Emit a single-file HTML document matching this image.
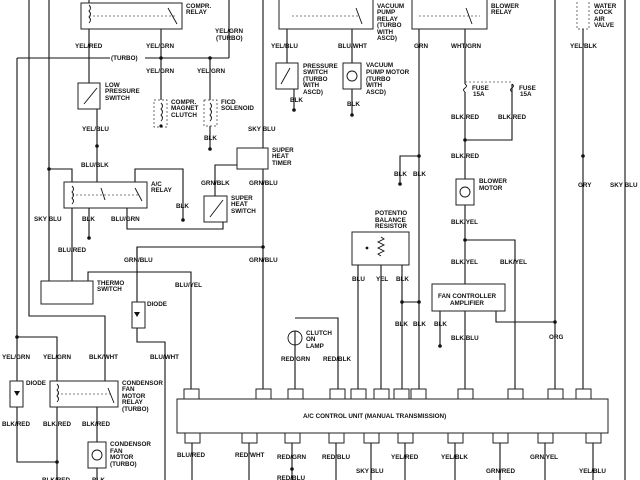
<!DOCTYPE html>
<html><head><meta charset="utf-8"><style>
html,body{margin:0;padding:0;background:#fff;}
svg{display:block;}
text{font-family:"Liberation Sans",sans-serif;font-size:6.3px;font-weight:bold;fill:#111;}
.l{stroke:#111;stroke-width:1.1;fill:none;}
.b{stroke:#222;stroke-width:1;fill:#fff;}
.d{stroke:#555;stroke-width:.7;stroke-dasharray:2,2;fill:none;}
</style></head><body>
<svg width="640" height="480" viewBox="0 0 640 480" xmlns="http://www.w3.org/2000/svg">
<g class="l">
<!-- left verticals -->
<path d="M29 0V316H105V381"/>
<path d="M49 0V281"/>
<path d="M17 58V381M17 407V462H57"/>
<path d="M17 58H110M145 58H229"/>
<path d="M49 169H72V281"/>
<path d="M17 337H57V381M57 407V480"/>
<path d="M97 407V442M97 468V480"/>
<!-- compr relay -->
<path d="M89 0V83M97 109V182"/>
<path d="M161 23V100"/>
<path d="M229 0V58"/>
<path d="M210 58V100M210 126V149"/>
<!-- a/c relay switch lines -->
<path d="M135 182V169H183V220"/>
<path d="M89 208V238M127 208V229H223V222"/>
<!-- super heat -->
<path d="M263 0V148M263 169V389"/>
<path d="M237 165H215V196"/>
<path d="M137 260V247H263"/>
<path d="M137 247V302M137 328V342H165V480"/>
<path d="M88 281V272H191V389"/>
<!-- vacuum pump -->
<path d="M287 0V63M294 89V110"/>
<path d="M352 23V63M352 89V115"/>
<!-- blower relay -->
<path d="M419 0V389"/>
<path d="M419 156H400V184"/>
<path d="M465 23V84M465 92V179M465 205V284M465 311V389"/>
<path d="M512 84V140H465"/>
<path d="M465 240H515V389"/>
<path d="M496 311V322H555"/>
<path d="M440 311V346"/>
<path d="M555 0V389M583 29V389M625 0V480"/>
<!-- potentio -->
<path d="M358 248V389M381 256V389M402 237V389M402 302H419"/>
<path d="M381 237H402M358 248H372"/>
<!-- lamp -->
<path d="M295 331V389M295 318H338V389"/>
<!-- bottom -->
<path d="M192 443V480M249 443V480M292 443V480M336 443V480M371 443V480M405 443V480M455 443V480M500 443V480M545 443V480M593 443V480"/>
</g>
<g class="b">
<rect x="81" y="3" width="101" height="26"/>
<rect x="78" y="83" width="22" height="26"/>
<rect x="154" y="100" width="13" height="27" class="d" style="stroke:#333"/>
<rect x="204" y="100" width="13" height="26" class="d" style="stroke:#333"/>
<rect x="237" y="148" width="31" height="21"/>
<rect x="204" y="196" width="23" height="26"/>
<rect x="64" y="182" width="83" height="26"/>
<rect x="41" y="281" width="52" height="23"/>
<rect x="132" y="302" width="13" height="26"/>
<rect x="10" y="381" width="13" height="26"/>
<rect x="50" y="381" width="68" height="26"/>
<rect x="88" y="442" width="18" height="26"/>
<rect x="279" y="-2" width="94" height="31"/>
<rect x="276" y="63" width="22" height="26"/>
<rect x="343" y="63" width="18" height="26"/>
<rect x="412" y="-2" width="75" height="31"/>
<rect x="456" y="179" width="18" height="26"/>
<rect x="352" y="232" width="57" height="33"/>
<rect x="432" y="284" width="73" height="27"/>
<rect x="577" y="-2" width="12" height="31" class="d" style="stroke:#333"/>
<rect x="177" y="399" width="431" height="34"/>
</g>
<!-- connectors -->
<g class="b">
<rect x="184" y="389" width="15" height="10"/><rect x="256" y="389" width="15" height="10"/><rect x="288" y="389" width="15" height="10"/><rect x="330" y="389" width="15" height="10"/><rect x="351" y="389" width="15" height="10"/><rect x="374" y="389" width="15" height="10"/><rect x="394" y="389" width="15" height="10"/><rect x="411" y="389" width="15" height="10"/><rect x="458" y="389" width="15" height="10"/><rect x="508" y="389" width="15" height="10"/><rect x="548" y="389" width="15" height="10"/><rect x="576" y="389" width="15" height="10"/>
<rect x="185" y="433" width="15" height="10"/><rect x="242" y="433" width="15" height="10"/><rect x="285" y="433" width="15" height="10"/><rect x="329" y="433" width="15" height="10"/><rect x="364" y="433" width="15" height="10"/><rect x="398" y="433" width="15" height="10"/><rect x="448" y="433" width="15" height="10"/><rect x="493" y="433" width="15" height="10"/><rect x="538" y="433" width="15" height="10"/><rect x="586" y="433" width="15" height="10"/>
</g>
<!-- internal relay details -->
<g class="d">
<path d="M89 16H175M72 195H140M57 394H110M292 16H360M419 16H480"/>
<path d="M465 82H512"/>
</g>
<g class="l" style="stroke-width:.9">
<path d="M168 8L177 24M135 188L142 201M101 188L105 200M108 388L114 403M356 8L362 24M466 8L472 24"/>
<path d="M97 88L84 104M223 200L210 217M290 68L281 84"/>
<path d="M381 237l3 2-6 3 6 3-6 3 6 3-6 3 3 2"/>
<path d="M465 84q3 2 0 4q-3 2 0 4M512 84q3 2 0 4q-3 2 0 4"/>
<path d="M89 5q3 3 0 6q3 3 0 6q3 3 0 6M72 186q3 3 0 6q3 3 0 6q3 3 0 6M57 384q3 3 0 6q3 3 0 6q3 3 0 6M161 103q3 3 0 6q3 3 0 6q3 3 0 6M210 103q3 3 0 6q3 3 0 6q3 3 0 6"/>
</g>
<g fill="none" stroke="#111" stroke-width=".9">
<circle cx="352" cy="76" r="5"/><circle cx="465" cy="192" r="5"/><circle cx="97" cy="455" r="5"/><circle cx="295" cy="338" r="7"/>
</g>
<g fill="#111">
<circle cx="161" cy="58" r="1.8"/><circle cx="210" cy="58" r="1.8"/><circle cx="97" cy="146" r="1.8"/><circle cx="49" cy="169" r="1.8"/>
<circle cx="161" cy="126" r="1.6"/><circle cx="210" cy="149" r="1.8"/><circle cx="183" cy="220" r="1.8"/><circle cx="89" cy="238" r="1.8"/>
<circle cx="263" cy="247" r="1.8"/><circle cx="17" cy="337" r="1.8"/><circle cx="57" cy="462" r="1.8"/>
<circle cx="294" cy="110" r="1.8"/><circle cx="352" cy="115" r="1.8"/><circle cx="419" cy="156" r="1.8"/><circle cx="400" cy="184" r="1.8"/>
<circle cx="465" cy="140" r="1.8"/><circle cx="465" cy="240" r="1.8"/><circle cx="583" cy="156" r="1.8"/><circle cx="402" cy="302" r="1.8"/>
<circle cx="419" cy="302" r="1.8"/><circle cx="555" cy="322" r="1.8"/><circle cx="440" cy="346" r="1.8"/><circle cx="292" cy="469" r="1.8"/>
<circle cx="367" cy="248" r="1.4"/>
<path d="M134 312h6l-3 5zM14 391h6l-3 5z"/>
</g>
<!-- labels -->
<text x="186" y="8">COMPR.</text><text x="186" y="14">RELAY</text>
<text x="75" y="48">YEL/RED</text><text x="146" y="48">YEL/GRN</text><text x="215" y="33">YEL/GRN</text><text x="216" y="40">(TURBO)</text>
<text x="111" y="60">(TURBO)</text>
<text x="146" y="73">YEL/GRN</text><text x="197" y="73">YEL/GRN</text>
<text x="105" y="87">LOW</text><text x="105" y="93">PRESSURE</text><text x="105" y="100">SWITCH</text>
<text x="171" y="104">COMPR.</text><text x="171" y="110">MAGNET</text><text x="171" y="117">CLUTCH</text>
<text x="221" y="104">FICD</text><text x="221" y="110">SOLENOID</text>
<text x="82" y="131">YEL/BLU</text><text x="204" y="140">BLK</text><text x="248" y="131">SKY BLU</text>
<text x="272" y="152">SUPER</text><text x="272" y="158">HEAT</text><text x="272" y="165">TIMER</text>
<text x="81" y="167">BLU/BLK</text><text x="151" y="186">A/C</text><text x="151" y="192">RELAY</text>
<text x="201" y="185">GRN/BLK</text><text x="249" y="185">GRN/BLU</text>
<text x="231" y="200">SUPER</text><text x="231" y="206">HEAT</text><text x="231" y="213">SWITCH</text>
<text x="176" y="208">BLK</text><text x="34" y="221">SKY BLU</text><text x="82" y="221">BLK</text><text x="111" y="221">BLU/GRN</text>
<text x="58" y="252">BLU/RED</text><text x="124" y="262">GRN/BLU</text><text x="249" y="262">GRN/BLU</text>
<text x="97" y="285">THERMO</text><text x="97" y="291">SWITCH</text><text x="175" y="287">BLU/YEL</text><text x="147" y="306">DIODE</text>
<text x="2" y="359">YEL/GRN</text><text x="43" y="359">YEL/GRN</text><text x="89" y="359">BLK/WHT</text><text x="150" y="359">BLU/WHT</text>
<text x="26" y="385">DIODE</text><text x="122" y="385">CONDENSOR</text><text x="122" y="391">FAN</text><text x="122" y="398">MOTOR</text><text x="122" y="404">RELAY</text><text x="122" y="411">(TURBO)</text>
<text x="2" y="426">BLK/RED</text><text x="43" y="426">BLK/RED</text><text x="82" y="426">BLK/RED</text>
<text x="110" y="446">CONDENSOR</text><text x="110" y="453">FAN</text><text x="110" y="459">MOTOR</text><text x="110" y="466">(TURBO)</text>
<text x="42" y="482">BLK/RED</text><text x="92" y="482">BLK</text>
<text x="377" y="8">VACUUM</text><text x="377" y="14">PUMP</text><text x="377" y="21">RELAY</text><text x="377" y="27">(TURBO</text><text x="377" y="34">WITH</text><text x="377" y="40">ASCD)</text>
<text x="271" y="48">YEL/BLU</text><text x="338" y="48">BLU/WHT</text><text x="414" y="48">GRN</text><text x="451" y="48">WHT/GRN</text>
<text x="491" y="8">BLOWER</text><text x="491" y="14">RELAY</text>
<text x="594" y="8">WATER</text><text x="594" y="14">COCK</text><text x="594" y="21">AIR</text><text x="594" y="27">VALVE</text><text x="570" y="48">YEL/BLK</text>
<text x="303" y="68">PRESSURE</text><text x="303" y="74">SWITCH</text><text x="303" y="81">(TURBO</text><text x="303" y="87">WITH</text><text x="303" y="94">ASCD)</text>
<text x="366" y="67">VACUUM</text><text x="366" y="74">PUMP MOTOR</text><text x="366" y="81">(TURBO</text><text x="366" y="87">WITH</text><text x="366" y="94">ASCD)</text>
<text x="290" y="102">BLK</text><text x="347" y="106">BLK</text>
<text x="472" y="90">FUSE</text><text x="473" y="96">15A</text><text x="519" y="90">FUSE</text><text x="520" y="96">15A</text>
<text x="451" y="119">BLK/RED</text><text x="498" y="119">BLK/RED</text><text x="451" y="158">BLK/RED</text>
<text x="394" y="176">BLK</text><text x="413" y="176">BLK</text>
<text x="479" y="183">BLOWER</text><text x="479" y="190">MOTOR</text>
<text x="578" y="187">GRY</text><text x="610" y="187">SKY BLU</text>
<text x="375" y="215">POTENTIO</text><text x="375" y="222">BALANCE</text><text x="375" y="228">RESISTOR</text>
<text x="451" y="224">BLK/YEL</text><text x="451" y="264">BLK/YEL</text><text x="500" y="264">BLK/YEL</text>
<text x="352" y="281">BLU</text><text x="376" y="281">YEL</text><text x="396" y="281">BLK</text>
<text x="438" y="298">FAN CONTROLLER</text><text x="450" y="305">AMPLIFIER</text>
<text x="395" y="326">BLK</text><text x="413" y="326">BLK</text><text x="434" y="326">BLK</text>
<text x="451" y="340">BLK/BLU</text><text x="549" y="339">ORG</text>
<text x="306" y="335">CLUTCH</text><text x="306" y="341">ON</text><text x="306" y="348">LAMP</text>
<text x="281" y="361">RED/GRN</text><text x="323" y="361">RED/BLK</text>
<text x="303" y="418">A/C CONTROL UNIT (MANUAL TRANSMISSION)</text>
<text x="177" y="457">BLU/RED</text><text x="235" y="457">RED/WHT</text><text x="277" y="459">RED/GRN</text><text x="322" y="459">RED/BLU</text><text x="391" y="459">YEL/RED</text><text x="441" y="459">YEL/BLK</text><text x="530" y="459">GRN/YEL</text>
<text x="356" y="473">SKY BLU</text><text x="486" y="473">GRN/RED</text><text x="579" y="473">YEL/BLU</text><text x="277" y="480">RED/BLU</text>
</svg>
</body></html>
